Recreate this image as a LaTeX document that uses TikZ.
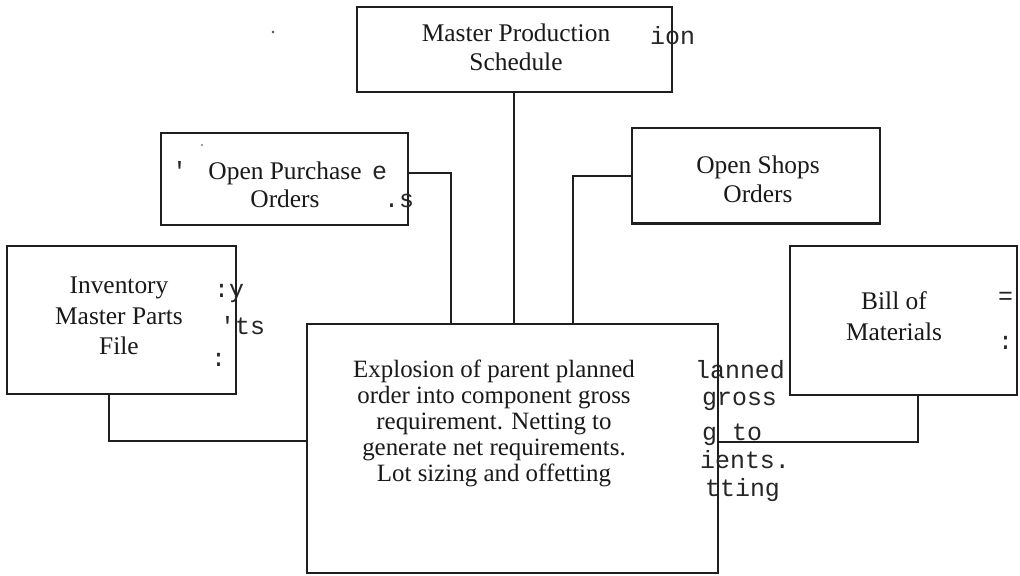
\documentclass[tikz,border=0pt]{standalone}
\usepackage{fontspec}
\setmainfont{Liberation Serif}
\newfontfamily\fragfont{Liberation Mono}
\begin{document}
\begin{tikzpicture}[x=1bp,y=-1bp,
  box/.style={draw=black!88, line width=2bp, inner sep=0pt},
  link/.style={draw=black!88, line width=1.9bp},
  lbl/.style={font=\fontsize{25.5}{29}\selectfont, anchor=base, inner sep=0pt, text=black!90},
  elbl/.style={font=\fontsize{25}{28}\selectfont, anchor=base, inner sep=0pt, text=black!90},
  frg/.style={font=\fragfont\fontsize{25}{25}\selectfont, anchor=base west, inner sep=0pt, text=black!85},
]
\useasboundingbox (0,0) rectangle (1020,576);
\fill[white] (0,0) rectangle (1020,576);

% boxes
\node[box, minimum width=315bp, minimum height=85bp]  (mps)  at (514,49.5) {};
\node[box, minimum width=247bp, minimum height=92bp]  (opo)  at (284.5,179) {};
\node[box, minimum width=248bp, minimum height=95bp]  (oso)  at (756,176) {};
\node[box, minimum width=229bp, minimum height=148bp] (inv)  at (121.5,320) {};
\node[box, minimum width=227bp, minimum height=149bp] (bom)  at (903.5,320.5) {};
\node[box, minimum width=411bp, minimum height=249bp] (expl) at (512.5,448.5) {};

% labels
\node[lbl] (mps1) at (516,42) {Master Production};
\node[lbl] (mps2) at (516,71) {Schedule};
\node[lbl] (opo1) at (285,180) {Open Purchase};
\node[lbl] (opo2) at (285,208) {Orders};
\node[lbl] (oso1) at (758,174) {Open Shops};
\node[lbl] (oso2) at (758,203) {Orders};
\node[lbl] (inv1) at (119,294) {Inventory};
\node[lbl] (inv2) at (119,324) {Master Parts};
\node[lbl] (inv3) at (119,354) {File};
\node[lbl] (bom1) at (894,309) {Bill of};
\node[lbl] (bom2) at (894,340) {Materials};
\node[elbl] (ex1) at (494,377) {Explosion of parent planned};
\node[elbl] (ex2) at (494,403) {order into component gross};
\node[elbl] (ex3) at (494,429) {requirement. Netting to};
\node[elbl] (ex4) at (494,455) {generate net requirements.};
\node[elbl] (ex5) at (494,481) {Lot sizing and offetting};

% stray fragments
\node[frg] (f1)  at (650,45)  {ion};
\node[frg] (f2)  at (172,180) {'};
\node[frg] (f3)  at (372,180) {e};
\node[frg] (f4)  at (384,208) {.s};
\node[frg] (f5)  at (214,298) {:y};
\node[frg] (f6)  at (220,334) {'ts};
\node[frg] (f7)  at (211,366) {:};
\node[frg] (f8)  at (998,305) {=};
\node[frg] (f9)  at (998,349) {:};
\node[frg] (f10) at (695,378) {lanned};
\node[frg] (f11) at (702,405) {gross};
\node[frg] (f12) at (702,440) {g to};
\node[frg] (f13) at (700,468) {ients.};
\node[frg] (f14) at (705,496) {tting};
\fill[black!70] (273,32) circle (1.3);
\fill[black!50] (202,145) circle (1.1);

% connectors
\coordinate (c1) at (451,173);
\coordinate (c2) at (573,176);
\coordinate (c3) at (109,441);
\coordinate (c4) at (918,442);
\draw[link] (mps.south) -- (mps.south |- expl.north);
\draw[link] (opo.east |- c1) -- (c1) -- (c1 |- expl.north);
\draw[link] (oso.west) -- (oso.west -| c2) -- (c2 |- expl.north);
\draw[link] (c3 |- inv.south) -- (c3) -- (c3 -| expl.west);
\draw[link] (c4 |- bom.south) -- (c4) -- (c4 -| expl.east);
\end{tikzpicture}
\end{document}
